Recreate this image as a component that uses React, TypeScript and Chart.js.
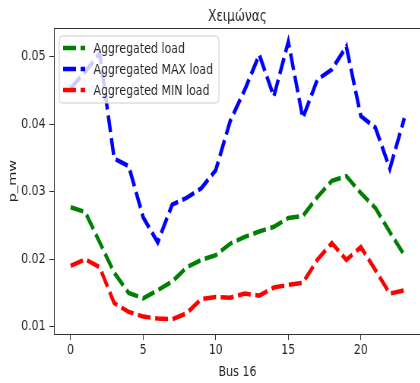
import React, { useEffect, useRef } from "react";
import { Chart, registerables } from "chart.js";

Chart.register(...registerables);

// ---- data ----
const chartTitle = "Χειμώνας";
const xAxisLabel = "Bus 16";
const yAxisLabel = "p_mw";
const hours = [0, 1, 2, 3, 4, 5, 6, 7, 8, 9, 10, 11, 12, 13, 14, 15, 16, 17, 18, 19, 20, 21, 22, 23];
const aggregatedLoad = [
  0.0277, 0.027, 0.0225, 0.018, 0.015, 0.0142, 0.0154, 0.0167, 0.0188, 0.0199, 0.0206, 0.0223,
  0.0233, 0.0241, 0.0248, 0.0261, 0.0264, 0.0292, 0.0316, 0.0323, 0.0298, 0.0276, 0.024, 0.0206,
];
const aggregatedMaxLoad = [
  0.0453, 0.0478, 0.0505, 0.0349, 0.0338, 0.0262, 0.0225, 0.0281, 0.0291, 0.0305, 0.0332, 0.0405,
  0.0451, 0.0503, 0.0441, 0.0522, 0.0409, 0.0466, 0.0481, 0.0515, 0.0412, 0.0395, 0.0334, 0.0409,
];
const aggregatedMinLoad = [
  0.019, 0.02, 0.0188, 0.0135, 0.0122, 0.0115, 0.0112, 0.0111, 0.012, 0.0141, 0.0144, 0.0143,
  0.0149, 0.0146, 0.0158, 0.0162, 0.0165, 0.0199, 0.0224, 0.0199, 0.0218, 0.0184, 0.0149, 0.0154,
];
const seriesNames = ["Aggregated load", "Aggregated MAX load", "Aggregated MIN load"];
const seriesColors = ["#008000", "#0000ff", "#ff0000"];
const xTicks = [0, 5, 10, 15, 20];
const xTickLabels = ["0", "5", "10", "15", "20"];
const yTicks = [0.01, 0.02, 0.03, 0.04, 0.05];
const yTickLabels = ["0.01", "0.02", "0.03", "0.04", "0.05"];

// ---- presentation ----
const SX = 0.76; // horizontal squeeze of the reference picture
const W = 560;
const H = 383;
const FONT = "'DejaVu Sans', sans-serif";
const FS = 14.5;
const TEXT = "#262626";
const AXIS = "#333333";
const DASH = [17, 6];
const LW = 4.5;

const overlayPlugin = {
  id: "overlay",
  afterDatasetsDraw(chart: any) {
    const { ctx, chartArea: a } = chart;
    ctx.save();
    // top and right spines
    ctx.strokeStyle = AXIS;
    ctx.lineWidth = 1;
    ctx.beginPath();
    ctx.moveTo(a.left, a.top + 0.5);
    ctx.lineTo(a.right - 0.5, a.top + 0.5);
    ctx.lineTo(a.right - 0.5, a.bottom);
    ctx.stroke();

    // legend box
    const bx = a.left + 7;
    const by = a.top + 8;
    const bw = 210;
    const bh = 67;
    const r = 4;
    ctx.beginPath();
    ctx.moveTo(bx + r, by);
    ctx.lineTo(bx + bw - r, by);
    ctx.quadraticCurveTo(bx + bw, by, bx + bw, by + r);
    ctx.lineTo(bx + bw, by + bh - r);
    ctx.quadraticCurveTo(bx + bw, by + bh, bx + bw - r, by + bh);
    ctx.lineTo(bx + r, by + bh);
    ctx.quadraticCurveTo(bx, by + bh, bx, by + bh - r);
    ctx.lineTo(bx, by + r);
    ctx.quadraticCurveTo(bx, by, bx + r, by);
    ctx.closePath();
    ctx.fillStyle = "rgba(255,255,255,0.8)";
    ctx.fill();
    ctx.strokeStyle = "#cccccc";
    ctx.lineWidth = 1;
    ctx.stroke();

    ctx.font = `${FS}px ${FONT}`;
    ctx.textBaseline = "middle";
    ctx.textAlign = "left";
    seriesNames.forEach((name, i) => {
      const y = by + 12 + i * 21;
      ctx.save();
      ctx.strokeStyle = seriesColors[i];
      ctx.lineWidth = LW;
      ctx.setLineDash(DASH);
      ctx.beginPath();
      ctx.moveTo(bx + 5, y);
      ctx.lineTo(bx + 34, y);
      ctx.stroke();
      ctx.restore();
      ctx.fillStyle = TEXT;
      ctx.fillText(name, bx + 45, y + 1);
    });

    // title
    ctx.font = `16px ${FONT}`;
    ctx.textAlign = "center";
    ctx.textBaseline = "alphabetic";
    ctx.fillStyle = TEXT;
    ctx.fillText(chartTitle, (a.left + a.right) / 2, 20.5);
    ctx.restore();
  },
};

export default function App() {
  const ref = useRef<HTMLCanvasElement | null>(null);

  useEffect(() => {
    if (!ref.current) return;
    const series = [aggregatedLoad, aggregatedMaxLoad, aggregatedMinLoad];
    const chart = new Chart(ref.current, {
      type: "line",
      data: {
        datasets: series.map((arr, i) => ({
          label: seriesNames[i],
          data: hours.map((h, j) => ({ x: h, y: arr[j] })),
          borderColor: seriesColors[i],
          backgroundColor: seriesColors[i],
          borderWidth: LW,
          borderDash: DASH,
          borderCapStyle: "butt" as const,
          pointRadius: 0,
          fill: false,
          tension: 0,
        })),
      },
      options: {
        animation: false,
        responsive: false,
        devicePixelRatio: 1,
        layout: { padding: { top: 28, right: 6, bottom: 0, left: 0 } },
        plugins: {
          legend: { display: false },
          title: { display: false },
          tooltip: { enabled: false },
        },
        scales: {
          x: {
            type: "linear",
            min: -1.15,
            max: 24.15,
            afterBuildTicks: (s: any) => {
              s.ticks = xTicks.map((v) => ({ value: v }));
            },
            afterFit: (s: any) => {
              s.height = 49;
            },
            grid: { drawOnChartArea: false, drawTicks: true, tickLength: 6, color: AXIS, tickWidth: 1 },
            border: { display: true, color: AXIS, width: 1 },
            ticks: {
              color: TEXT,
              font: { family: FONT, size: FS },
              padding: 2,
              maxRotation: 0,
              autoSkip: false,
              callback: (_v: any, i: number) => xTickLabels[i],
            },
            title: {
              display: true,
              text: xAxisLabel,
              color: TEXT,
              font: { family: FONT, size: FS, lineHeight: 1.2 },
              padding: { top: 0, bottom: 2 },
            },
          },
          y: {
            type: "linear",
            min: 0.00892,
            max: 0.05425,
            afterBuildTicks: (s: any) => {
              s.ticks = yTicks.map((v) => ({ value: v }));
            },
            afterFit: (s: any) => {
              s.width = 71;
            },
            grid: { drawOnChartArea: false, drawTicks: true, tickLength: 6, color: AXIS, tickWidth: 1 },
            border: { display: true, color: AXIS, width: 1 },
            ticks: {
              color: TEXT,
              font: { family: FONT, size: FS },
              padding: 5,
              autoSkip: false,
              callback: (_v: any, i: number) => yTickLabels[i],
            },
            title: {
              display: true,
              text: yAxisLabel,
              color: TEXT,
              font: { family: FONT, size: FS, lineHeight: 1.2 },
              padding: { top: 9, bottom: 0 },
            },
          },
        },
      },
      plugins: [overlayPlugin],
    });
    return () => chart.destroy();
  }, []);

  return (
    <div
      style={{
        position: "fixed",
        left: 0,
        top: 0,
        width: 420,
        height: 383,
        overflow: "hidden",
        background: "#ffffff",
      }}
    >
      <canvas
        ref={ref}
        width={W}
        height={H}
        style={{
          display: "block",
          width: W,
          height: H,
          transform: `scaleX(${SX})`,
          transformOrigin: "0 0",
        }}
      />
    </div>
  );
}
